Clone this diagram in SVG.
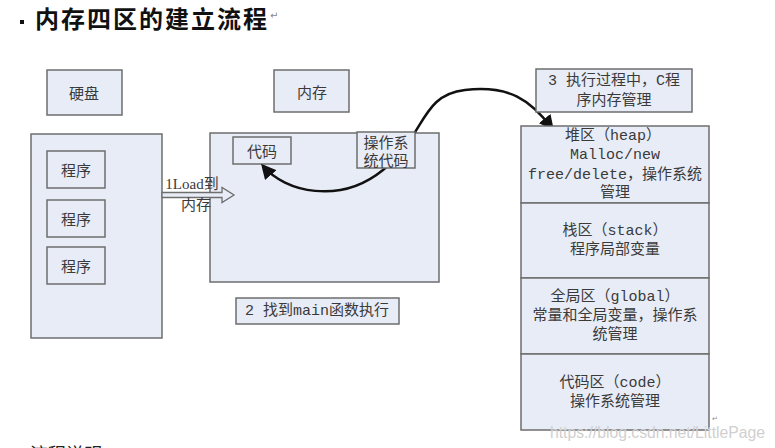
<svg xmlns="http://www.w3.org/2000/svg" width="775" height="448" viewBox="0 0 775 448">
<style>
.box{fill:#e8ecf6;stroke:#6e6e6e;stroke-width:1.5}
.t{font-family:"Noto Sans CJK SC","Liberation Sans",sans-serif;font-size:15px;fill:#3a3a3a;text-anchor:middle;dominant-baseline:central}
.m{font-family:"Liberation Mono","Noto Sans CJK SC",monospace;font-size:15px;fill:#3a3a3a;text-anchor:middle;dominant-baseline:central}
.s{font-family:"Liberation Serif","Noto Sans CJK SC",serif;font-size:15px;fill:#3a3a3a;text-anchor:middle;dominant-baseline:central}
.curve{fill:none;stroke:#111;stroke-width:2.5}
</style>
<defs>
<marker id="ah" viewBox="0 0 10 10" refX="8" refY="5" markerWidth="6" markerHeight="6" orient="auto-start-reverse" markerUnits="strokeWidth">
<path d="M0,0 L10,5 L0,10 z" fill="#111"/>
</marker>
</defs>
<rect width="775" height="448" fill="#ffffff"/>
<g id="title">
<rect x="20" y="20" width="4" height="4" fill="#111"/>
<text x="35" y="17" font-family="Noto Sans CJK SC, sans-serif" font-size="24" font-weight="bold" fill="#111" dominant-baseline="central" textLength="232" lengthAdjust="spacing">内存四区的建立流程</text>
<text x="270" y="19" font-family="DejaVu Sans, sans-serif" font-size="10" fill="#888">↵</text>
</g>
<g id="disk-label">
<rect class="box" x="47" y="70" width="75" height="45"/>
<text class="t" x="84" y="92">硬盘</text>
</g>
<g id="disk">
<rect class="box" x="31" y="134" width="131" height="204"/>
</g>
<g id="prog1"><rect class="box" x="47" y="151" width="58" height="37"/><text class="t" x="76" y="169" font-size="16">程序</text></g>
<g id="prog2"><rect class="box" x="47" y="200" width="58" height="37"/><text class="t" x="76" y="218" font-size="16">程序</text></g>
<g id="prog3"><rect class="box" x="47" y="247" width="58" height="37"/><text class="t" x="76" y="265" font-size="16">程序</text></g>
<g id="mem-label">
<rect class="box" x="274" y="70" width="75" height="42"/>
<text class="t" x="312" y="91">内存</text>
</g>
<g id="memory">
<rect class="box" x="210" y="133" width="229" height="149"/>
</g>
<g id="code">
<rect class="box" x="233" y="137" width="58" height="27"/>
<text class="t" x="262" y="150">代码</text>
</g>
<g id="connectors">
<path class="curve" d="M263,166 C285,192 340,205 383,170 S420,95 465,90 S530,100 552,128" marker-start="url(#ah)" marker-end="url(#ah)"/>
<path d="M162,192.5 L222,192.5 L222,187.5 L234,195 L222,202.5 L222,197.5 L162,197.5 z" fill="#e8ecf6" stroke="#6e6e6e" stroke-width="1.3"/>
<text class="s" x="192" y="184">1Load到</text>
<text class="s" x="196" y="205">内存</text>
</g>
<g id="os-code">
<rect class="box" x="357" y="132" width="58" height="36"/>
<text class="t" x="386" y="141" font-size="12">操作系</text>
<text class="t" x="386" y="159.5" font-size="12">统代码</text>
</g>
<g id="step2">
<rect class="box" x="236" y="298" width="163" height="26"/>
<text class="m" x="317" y="311">2 找到main函数执行</text>
</g>
<g id="step3">
<rect class="box" x="536" y="69" width="156" height="43"/>
<text class="m" x="614" y="81">3 执行过程中，C程</text>
<text class="m" x="614" y="101">序内存管理</text>
</g>
<g id="heap">
<rect class="box" x="521" y="126" width="188" height="77"/>
<text class="m" x="613" y="136">堆区（heap）</text>
<text class="m" x="615" y="155">Malloc/new</text>
<text class="m" x="615" y="175">free/delete，操作系统</text>
<text class="m" x="615" y="193">管理</text>
</g>
<g id="stack">
<rect class="box" x="521" y="203" width="188" height="75"/>
<text class="m" x="615" y="231">栈区（stack）</text>
<text class="m" x="615" y="250">程序局部变量</text>
</g>
<g id="global">
<rect class="box" x="521" y="278" width="188" height="76"/>
<text class="m" x="615" y="297">全局区（global）</text>
<text class="m" x="615" y="316">常量和全局变量，操作系</text>
<text class="m" x="615" y="335">统管理</text>
</g>
<g id="codearea">
<rect class="box" x="521" y="354" width="188" height="76"/>
<text class="m" x="615" y="383">代码区（code）</text>
<text class="m" x="615" y="402">操作系统管理</text>
</g>
<text x="712" y="421" font-family="DejaVu Sans, sans-serif" font-size="7" fill="#888">↵</text>
<text x="550" y="438" font-family="Liberation Sans, sans-serif" font-size="16" fill="#d0d0d0" textLength="215" lengthAdjust="spacingAndGlyphs">https://blog.csdn.net/LittlePage</text>
<text x="30" y="461" font-family="Noto Sans CJK SC, sans-serif" font-size="18" fill="#222">流程说明</text>
</svg>
